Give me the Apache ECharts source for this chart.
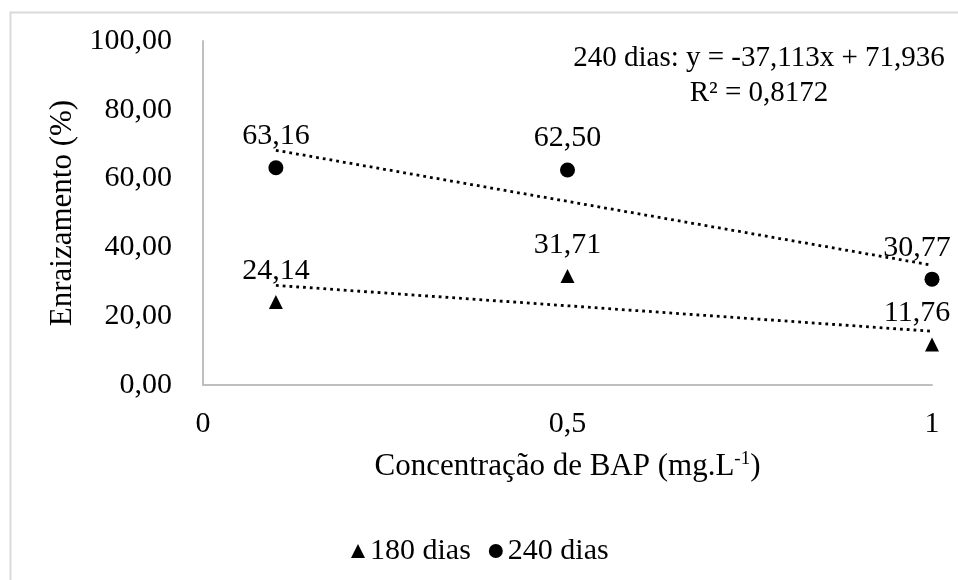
<!DOCTYPE html>
<html>
<head>
<meta charset="utf-8">
<script src="https://cdn.jsdelivr.net/npm/echarts@6/dist/echarts.min.js"></script>
<style>
html,body{margin:0;padding:0;background:#fff;}
#chart{width:958px;height:580px;}
</style>
</head>
<body>
<div id="chart"></div>
<script>
// ---- data ----
var concentrations = [0.1, 0.5, 1];
var dias180 = [24.14, 31.71, 11.76];
var dias240 = [63.16, 62.50, 30.77];
var seriesNames = ['180 dias', '240 dias'];
var xTicks = [0, 0.5, 1];
var yTicks = [0, 20, 40, 60, 80, 100];
var equationLines = ['240 dias: y = -37,113x + 71,936', 'R² = 0,8172'];

var FONT = 'Liberation Serif';
var TXT = '#000';

function fmt(v, d) { return v.toFixed(d).replace('.', ','); }

// least-squares trendline endpoints from the data
function trend(xs, ys) {
  var n = xs.length, mx = 0, my = 0;
  for (var i = 0; i < n; i++) { mx += xs[i]; my += ys[i]; }
  mx /= n; my /= n;
  var sxy = 0, sxx = 0;
  for (var j = 0; j < n; j++) { sxy += (xs[j] - mx) * (ys[j] - my); sxx += (xs[j] - mx) * (xs[j] - mx); }
  var b = sxy / sxx, a = my - b * mx;
  var x0 = xs[0], x1 = xs[n - 1];
  return [[x0, a + b * x0], [x1, a + b * x1]];
}

function pts(xs, ys) {
  return xs.map(function (x, i) {
    var p = { value: [x, ys[i]] };
    if (i === xs.length - 1) p.label = { offset: [-15, 0] };
    return p;
  });
}

var labelStyle = {
  show: true, position: 'top', distance: 9,
  fontFamily: FONT, fontSize: 30, color: '#000', opacity: 1,
  textBorderWidth: 0, textShadowBlur: 0,
  formatter: function (p) { return fmt(p.value[1], 2); }
};
var trendStyle = { color: '#000', width: 2.8, type: [2.8, 4], cap: 'butt' };

var chart = echarts.init(document.getElementById('chart'), null, { renderer: 'canvas' });
chart.setOption({
  animation: false,
  backgroundColor: '#fff',
  textStyle: { fontFamily: FONT, color: TXT },
  grid: { left: 203, right: 26, top: 41, bottom: 195, containLabel: false },
  xAxis: {
    type: 'value', min: xTicks[0], max: xTicks[xTicks.length - 1], interval: 0.5,
    name: 'Concentração de BAP (mg.L{sup|-1})',
    nameLocation: 'middle', nameGap: 65,
    nameTextStyle: {
      fontFamily: FONT, fontSize: 31, color: TXT,
      rich: { sup: { fontFamily: FONT, fontSize: 19, color: TXT, verticalAlign: 'top', padding: [0, 0, 14, 0] } }
    },
    axisLine: { show: true, lineStyle: { color: '#bfbfbf', width: 2 } },
    axisTick: { show: false },
    splitLine: { show: false },
    axisLabel: { fontFamily: FONT, fontSize: 30, color: TXT, margin: 24,
      formatter: function (v) { return String(v).replace('.', ','); } }
  },
  yAxis: {
    type: 'value', min: yTicks[0], max: yTicks[yTicks.length - 1], interval: 20,
    name: 'Enraizamento (%)', nameLocation: 'middle', nameGap: 104,
    nameTextStyle: { fontFamily: FONT, fontSize: 31, color: TXT },
    axisLine: { show: true, lineStyle: { color: '#bfbfbf', width: 2 } },
    axisTick: { show: false },
    splitLine: { show: false },
    axisLabel: { fontFamily: FONT, fontSize: 30, color: TXT, margin: 31,
      formatter: function (v) { return fmt(v, 2); } }
  },
  legend: {
    data: [{ name: seriesNames[0], icon: 'triangle' }, { name: seriesNames[1], icon: 'circle' }],
    left: 346, top: 531, itemWidth: 14, itemHeight: 14, itemGap: 18,
    textStyle: { fontFamily: FONT, fontSize: 30, color: TXT }
  },
  series: [
    {
      name: 'trend180', type: 'line', data: trend(concentrations, dias180),
      symbol: 'none', lineStyle: trendStyle, z: 1, silent: true
    },
    {
      name: 'trend240', type: 'line', data: trend(concentrations, dias240),
      symbol: 'none', lineStyle: trendStyle, z: 1, silent: true
    },
    {
      name: seriesNames[0], type: 'scatter', symbol: 'triangle', symbolSize: 14,
      itemStyle: { color: '#000', opacity: 1 }, data: pts(concentrations, dias180), label: labelStyle, z: 3
    },
    {
      name: seriesNames[1], type: 'scatter', symbol: 'circle', symbolSize: 15,
      itemStyle: { color: '#000', opacity: 1 }, data: pts(concentrations, dias240), label: labelStyle, z: 3
    }
  ],
  graphic: [
    { type: 'rect', left: 8, top: 10, z: -1, silent: true,
      shape: { width: 1000, height: 1000 }, style: { fill: 'none', stroke: '#d9d9d9', lineWidth: 2 } },
    { type: 'text', x: 759, y: 58, silent: true,
      style: { text: equationLines[0], font: '29px "Liberation Serif"', fill: TXT, align: 'center', verticalAlign: 'middle' } },
    { type: 'text', x: 759, y: 93, silent: true,
      style: { text: equationLines[1], font: '29px "Liberation Serif"', fill: TXT, align: 'center', verticalAlign: 'middle' } }
  ]
});
</script>
</body>
</html>
